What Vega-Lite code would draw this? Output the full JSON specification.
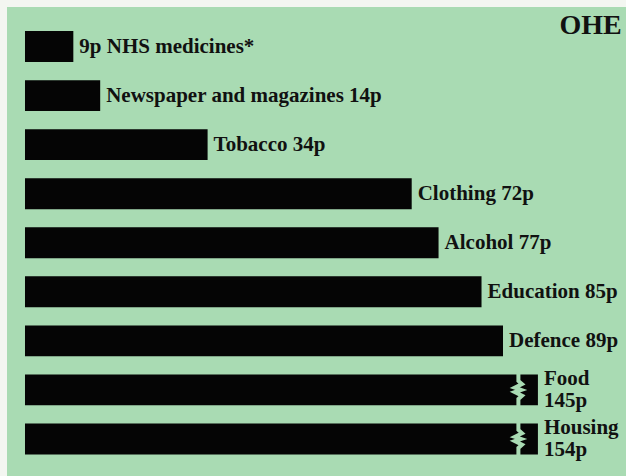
{
  "$schema": "https://vega.github.io/schema/vega-lite/v6.json",
  "width": 619,
  "height": 469,
  "padding": {"left": 7, "top": 7, "right": 0, "bottom": 0},
  "background": "#f3f6f1",
  "config": {"view": {"fill": "#a9dbb3", "stroke": null}},
  "data": {
    "values": [
      {"cat": "NHS medicines", "value": 9, "label": "9p NHS medicines*"},
      {"cat": "Newspaper and magazines", "value": 14, "label": "Newspaper and magazines 14p"},
      {"cat": "Tobacco", "value": 34, "label": "Tobacco 34p"},
      {"cat": "Clothing", "value": 72, "label": "Clothing 72p"},
      {"cat": "Alcohol", "value": 77, "label": "Alcohol 77p"},
      {"cat": "Education", "value": 85, "label": "Education 85p"},
      {"cat": "Defence", "value": 89, "label": "Defence 89p"},
      {"cat": "Food", "value": 145, "label": "Food\n145p"},
      {"cat": "Housing", "value": 154, "label": "Housing\n154p"}
    ]
  },
  "encoding": {
    "y": {
      "field": "cat", "type": "nominal", "sort": null, "axis": null,
      "scale": {"range": [15, 456.5], "paddingInner": 0.37, "paddingOuter": 0.185}
    }
  },
  "layer": [
    {
      "transform": [{"filter": "datum.value <= 100"}],
      "mark": {"type": "bar", "color": "#050505"},
      "encoding": {
        "x": {"field": "value", "type": "quantitative", "axis": null, "scale": {"domain": [-3.35, 111.9], "nice": false, "zero": false}},
        "x2": {"datum": 0}
      }
    },
    {
      "transform": [{"filter": "datum.value > 100"}],
      "mark": {"type": "bar", "color": "#050505"},
      "encoding": {
        "x": {"datum": 95.5, "type": "quantitative"},
        "x2": {"datum": 0}
      }
    },
    {
      "transform": [{"filter": "datum.value > 100"}],
      "mark": {"type": "point", "shape": "M0.05,-1 L0.05,-0.5 L0.25,-0.32 L-0.15,-0.12 L0.2,0 L-0.15,0.12 L0.25,0.32 L0.05,0.5 L0.05,1", "filled": false, "stroke": "#a9dbb3", "strokeWidth": 4, "size": 1300, "opacity": 1},
      "encoding": {
        "x": {"datum": 91.7, "type": "quantitative"}
      }
    },
    {
      "transform": [{"filter": "datum.value <= 100"}],
      "mark": {"type": "text", "align": "left", "baseline": "middle", "dx": 6, "font": "Liberation Serif", "fontSize": 21, "fontWeight": "bold", "color": "#111"},
      "encoding": {
        "x": {"field": "value", "type": "quantitative"},
        "text": {"field": "label"}
      }
    },
    {
      "transform": [{"filter": "datum.value > 100"}],
      "mark": {"type": "text", "align": "left", "baseline": "middle", "dx": 6, "dy": -11, "font": "Liberation Serif", "fontSize": 21, "fontWeight": "bold", "color": "#111", "lineBreak": "\n", "lineHeight": 22},
      "encoding": {
        "x": {"datum": 95.5, "type": "quantitative"},
        "text": {"field": "label"}
      }
    },
    {
      "data": {"values": [{"logo": "OHE"}]},
      "mark": {"type": "text", "align": "center", "baseline": "middle", "dy": -21, "font": "Liberation Serif", "fontSize": 28, "fontWeight": "bold", "color": "#111"},
      "encoding": {
        "x": {"datum": 105.3, "type": "quantitative"},
        "y": {"datum": "NHS medicines", "type": "nominal"},
        "text": {"field": "logo"}
      }
    }
  ]
}
